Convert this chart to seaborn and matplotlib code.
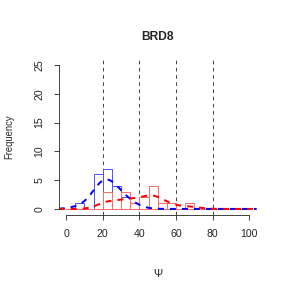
import seaborn as sns
import matplotlib.pyplot as plt
import pandas as pd
import numpy as np

# histogram bins (width 5 over 0-100) and counts
bin_edges = np.arange(0, 105, 5)
bin_mids = bin_edges[:-1] + 2.5
blue_counts = [0, 1, 0, 6, 7, 4, 2, 1, 0, 0, 0, 0, 0, 0, 0, 0, 0, 0, 0, 0]
red_counts = [0, 0, 0, 0, 3, 0, 3, 1, 2, 4, 1, 1, 0, 1, 0, 0, 0, 0, 0, 0]
guide_lines = [20, 40, 60, 80]
x_ticks = [0, 20, 40, 60, 80, 100]
y_ticks = [0, 5, 10, 15, 20, 25]

blue_psi = np.repeat(bin_mids, blue_counts)
red_psi = np.repeat(bin_mids, red_counts)
df = pd.concat([
    pd.DataFrame({"psi": blue_psi, "group": "blue"}),
    pd.DataFrame({"psi": red_psi, "group": "red"}),
])

sns.set_style("ticks")
plt.rcParams["font.family"] = ["Liberation Sans", "DejaVu Sans"]

fig = plt.figure(figsize=(4, 4), dpi=72)
ax = fig.add_axes([0.2038, 0.2545, 0.6875, 0.5396])

bar_colors = {"blue": "#5555FF", "red": "#FF6A6A"}
kde_colors = {"blue": "#0000FF", "red": "#FF0000"}
bw = {"blue": 1.5, "red": 0.75}
for grp in ["blue", "red"]:
    sns.histplot(
        data=df[df["group"] == grp], x="psi", bins=bin_edges,
        fill=False, element="bars", color=bar_colors[grp], linewidth=1.0,
        kde=True, kde_kws={"cut": 20, "clip": (-4, 104), "bw_adjust": bw[grp]},
        line_kws={"linestyle": (0, (3, 3)), "linewidth": 2.0,
                  "color": kde_colors[grp]},
        ax=ax,
    )
for line, grp in zip(ax.lines, ["blue", "red"]):
    line.set_color(kde_colors[grp])

for v in guide_lines:
    ax.axvline(v, color="#333333", linestyle=(0, (4, 4)), linewidth=0.9, zorder=0)

ax.set_xlim(-4, 104)
ax.set_ylim(-1, 26)
ax.set_xticks(x_ticks)
ax.set_yticks(y_ticks)
ax.tick_params(axis="both", length=5, width=0.9, labelsize=10.5, pad=9,
               color="#333333")
for lab in ax.get_yticklabels():
    lab.set_rotation(90)
    lab.set_va("center")
sns.despine(ax=ax)
ax.spines["left"].set_bounds(0, 25)
ax.spines["bottom"].set_bounds(0, 100)
for s in ["left", "bottom"]:
    ax.spines[s].set_linewidth(0.9)
    ax.spines[s].set_color("#333333")

ax.set_xlabel("Ψ", fontsize=11)
ax.set_ylabel("Frequency", fontsize=9.5)
ax.xaxis.set_label_coords(0.5, -0.349)
ax.yaxis.set_label_coords(-0.225, 0.5)
ax.text(0.5, 1.143, "BRD8", transform=ax.transAxes, ha="center", va="center",
        fontsize=12, fontweight="bold")

plt.savefig("out.png", dpi=72)
